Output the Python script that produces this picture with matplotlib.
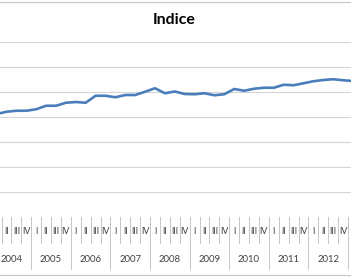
import matplotlib
matplotlib.use("Agg")
import matplotlib.pyplot as plt
from matplotlib.lines import Line2D
from matplotlib.transforms import blended_transform_factory

plt.rcParams["font.family"] = ["Lato", "DejaVu Sans"]

YEARS = [2004, 2005, 2006, 2007, 2008, 2009, 2010, 2011, 2012, 2013]
QUARTERS = ["I", "II", "III", "IV"]
# quarterly index values, 2004-I .. 2013-I (chart is cropped at both ends)
VALUES = [82.4, 84.2, 85.0, 85.0,
          86.2, 89.0, 89.0, 91.4,
          92.0, 91.4, 97.0, 97.0,
          95.8, 97.6, 97.6, 100.2,
          103.0, 99.0, 100.4, 98.4,
          98.2, 99.0, 97.4, 98.2,
          102.4, 101.0, 102.6, 103.4,
          103.4, 105.8, 105.4, 107.0,
          108.6, 109.6, 110.2, 109.4,
          108.8]
GRID_VALUES = [20, 40, 60, 80, 100, 120, 140]

BLUE = "#4a7ebb"
GRID = "#d4d4d4"
SEP = "#c6c6c6"
TXT = "#404040"

W, H = 351, 278
fig = plt.figure(figsize=(W / 100, H / 100), dpi=100)
# plot area runs past the left and right edges of the picture
ax = fig.add_axes([-8.35 / W, (H - 217) / H, 366.3 / W, 175 / H])

n = len(VALUES)
xs = list(range(n))
ax.plot(xs, VALUES, color=BLUE, lw=1.9, solid_capstyle="round", zorder=3)

ax.set_xlim(-0.5, n - 0.5)
ax.set_ylim(0, 140)
for v in GRID_VALUES:
    ax.axhline(v, color=GRID, lw=0.8, zorder=1)
ax.set_xticks([])
ax.set_yticks([])
for s in ax.spines.values():
    s.set_visible(False)

# multi-level category axis
tr = blended_transform_factory(ax.transData, fig.transFigure)
y_top = (H - 217) / H
y_q = (H - 243) / H
y_y = (H - 269) / H
labels = [(YEARS[i // 4], QUARTERS[i % 4]) for i in range(n)]


def visible(x):
    px = ax.transData.transform((x, 0))[0]
    return 3 < px < W - 3


for i, (yr, q) in enumerate(labels):
    if visible(i):
        ax.text(i, (H - 232) / H, q, transform=tr, ha="center", va="center",
                fontsize=6.4, color=TXT, clip_on=False)
    left = i - 0.5
    bottom = y_y if q == "I" else y_q
    ax.add_line(Line2D([left, left], [y_top, bottom], transform=tr,
                       color=SEP, lw=0.7, clip_on=False))
ax.add_line(Line2D([n - 0.5, n - 0.5], [y_top, y_y], transform=tr,
                   color=SEP, lw=0.7, clip_on=False))
for yr in YEARS:
    idx = [i for i, (y, _) in enumerate(labels) if y == yr]
    if len(idx) < 4:
        continue
    ax.text(sum(idx) / len(idx), (H - 259.5) / H, str(yr), transform=tr,
            ha="center", va="center", fontsize=6.9, color=TXT, clip_on=False)

fig.text(0.497, (H - 20) / H, "Indice", ha="center", va="center",
         fontsize=11.5, weight="bold", color="black")

# chart area border (left/right sides are cropped away)
for yp in (1.5, 274.5):
    fig.add_artist(Line2D([0, 1], [(H - yp) / H] * 2, color=SEP, lw=0.8))

fig.savefig("out.png", dpi=100)
